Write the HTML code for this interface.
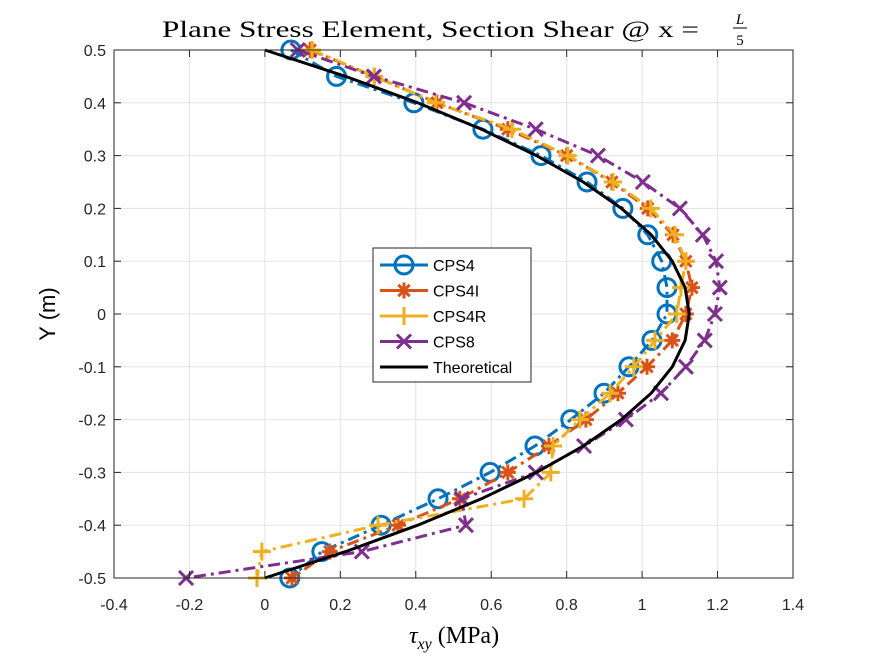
<!DOCTYPE html>
<html><head><meta charset="utf-8"><style>
html,body{margin:0;padding:0;background:#fff;}
svg text{font-family:"Liberation Sans",sans-serif;}
</style></head><body>
<svg id="chart" width="875" height="656" viewBox="0 0 875 656" xmlns="http://www.w3.org/2000/svg">
<rect x="0" y="0" width="875" height="656" fill="#fff"/>
<g id="grid"></g>
<g id="series"></g>
<rect x="114" y="50" width="679" height="528" fill="none" stroke="#262626" stroke-width="1"/>
<g id="ticks"></g>
<text x="162" y="37" font-size="23" fill="#000" textLength="537" lengthAdjust="spacingAndGlyphs" style="font-family:'Liberation Serif',serif">Plane Stress Element, Section Shear @ x =</text>
<g>
<text x="740" y="24" font-size="15" font-style="italic" text-anchor="middle" style="font-family:'Liberation Serif',serif">L</text>
<line x1="733" y1="28" x2="747" y2="28" stroke="#000" stroke-width="1"/>
<text x="740" y="45" font-size="15" text-anchor="middle" style="font-family:'Liberation Serif',serif">5</text>
</g>
<text x="454" y="643" font-size="24" text-anchor="middle" style="font-family:'Liberation Serif',serif"><tspan font-style="italic">τ</tspan><tspan font-size="16" dy="6" font-style="italic">xy</tspan><tspan dy="-6"> (MPa)</tspan></text>
<text transform="translate(55,314) rotate(-90)" font-size="22" text-anchor="middle">Y (m)</text>
<g id="legend"></g>
</svg>
<script>
const yVals=[0.5,0.45,0.4,0.35,0.3,0.25,0.2,0.15,0.1,0.05,0,-0.05,-0.1,-0.15,-0.2,-0.25,-0.3,-0.35,-0.4,-0.45,-0.5];
const cps4=[0.069,0.19,0.395,0.578,0.732,0.854,0.949,1.015,1.052,1.066,1.066,1.026,0.965,0.899,0.811,0.716,0.597,0.459,0.308,0.151,0.066];
const cps4i=[0.12,0.29,0.456,0.644,0.8,0.92,1.015,1.082,1.116,1.132,1.116,1.08,1.013,0.936,0.851,0.753,0.644,0.517,0.353,0.172,0.072];
const cps4r=[0.125,0.29,0.453,0.655,0.803,0.923,1.023,1.087,1.116,1.103,1.092,1.034,0.978,0.915,0.835,0.764,0.758,0.687,0.3,-0.008,-0.021];
const cps8=[0.087,0.289,0.528,0.718,0.883,1.002,1.1,1.161,1.196,1.206,1.193,1.166,1.116,1.05,0.957,0.846,0.718,0.522,0.533,0.257,-0.209];
const theoY=[0.5,0.45,0.4,0.35,0.3,0.25,0.2,0.15,0.1,0.05,0,-0.05,-0.1,-0.15,-0.2,-0.25,-0.3,-0.35,-0.4,-0.45,-0.5];
const theoX=[0,0.214,0.405,0.574,0.72,0.844,0.945,1.024,1.08,1.114,1.125,1.114,1.08,1.024,0.945,0.844,0.72,0.574,0.405,0.214,0];
const xTicks=[-0.4,-0.2,0,0.2,0.4,0.6,0.8,1,1.2,1.4];
const yTicks=[0.5,0.4,0.3,0.2,0.1,0,-0.1,-0.2,-0.3,-0.4,-0.5];
const xTickLabels=["-0.4","-0.2","0","0.2","0.4","0.6","0.8","1","1.2","1.4"];
const yTickLabels=["0.5","0.4","0.3","0.2","0.1","0","-0.1","-0.2","-0.3","-0.4","-0.5"];
const seriesNames=["CPS4","CPS4I","CPS4R","CPS8","Theoretical"];

const NS="http://www.w3.org/2000/svg";
const X0=114,X1=793,Y0=578,Y1=50;
function sx(v){return X0+(v-(-0.4))/(1.8)*(X1-X0);}
function sy(v){return Y0-(v-(-0.5))/(1.0)*(Y0-Y1);}
function mk(tag,attrs,parent){const e=document.createElementNS(NS,tag);for(const k in attrs)e.setAttribute(k,attrs[k]);parent.appendChild(e);return e;}
const grid=document.getElementById('grid'),ticks=document.getElementById('ticks'),ser=document.getElementById('series'),leg=document.getElementById('legend');
xTicks.forEach((t,i)=>{const x=sx(t);
 const g=mk('line',{x1:x,x2:x,y1:Y1,y2:Y0,stroke:'#e3e3e3','stroke-width':1},grid);
 
 
 mk('line',{x1:x,x2:x,y1:Y0,y2:Y0-7,stroke:'#262626'},ticks);
 mk('line',{x1:x,x2:x,y1:Y1,y2:Y1+7,stroke:'#262626'},ticks);
 const tx=mk('text',{x:x,y:610,'font-size':16,'text-anchor':'middle',fill:'#262626'},ticks);tx.textContent=xTickLabels[i];
 
 
});
yTicks.forEach((t,i)=>{const y=sy(t);
 const g=mk('line',{x1:X0,x2:X1,y1:y,y2:y,stroke:'#e3e3e3','stroke-width':1},grid);
 
 
 mk('line',{x1:X0,x2:X0+7,y1:y,y2:y,stroke:'#262626'},ticks);
 mk('line',{x1:X1,x2:X1-7,y1:y,y2:y,stroke:'#262626'},ticks);
 const tx=mk('text',{x:106,y:y+6,'font-size':16,'text-anchor':'end',fill:'#262626'},ticks);tx.textContent=yTickLabels[i];
 
 
});
function marker(type,x,y,color,parent){
 const g=mk('g',{stroke:color,'stroke-width':3,fill:'none'},parent);
 if(type==='o'){mk('circle',{cx:x,cy:y,r:9},g);}
 else if(type==='*'){for(let a=0;a<4;a++){const an=a*Math.PI/4;mk('line',{x1:x-8*Math.cos(an),y1:y-8*Math.sin(an),x2:x+8*Math.cos(an),y2:y+8*Math.sin(an)},g);}}
 else if(type==='+'){mk('line',{x1:x-9,x2:x+9,y1:y,y2:y},g);mk('line',{x1:x,x2:x,y1:y-9,y2:y+9},g);}
 else if(type==='x'){mk('line',{x1:x-7,x2:x+7,y1:y-7,y2:y+7},g);mk('line',{x1:x-7,x2:x+7,y1:y+7,y2:y-7},g);}
 return g;
}
const defs=[[cps4,'#0072BD','o','cps4'],[cps4i,'#D95319','*','cps4i'],[cps4r,'#EDB120','+','cps4r'],[cps8,'#7E2F8E','x','cps8']];
defs.forEach(d=>{
 const pts=d[0].map((v,i)=>sx(v)+','+sy(yVals[i])).join(' ');
 const pl=mk('polyline',{points:pts,fill:'none',stroke:d[1],'stroke-width':3,'stroke-dasharray':'12,5,3,5'},ser);
 
 
 d[0].forEach((v,i)=>{const m=marker(d[2],sx(v),sy(yVals[i]),d[1],ser);
  
  });
});
const th=mk('polyline',{points:theoX.map((v,i)=>sx(v)+','+sy(theoY[i])).join(' '),fill:'none',stroke:'#000','stroke-width':3,'stroke-linejoin':'round'},ser);


mk('rect',{x:373,y:248,width:158,height:134,fill:'#fff',stroke:'#262626','stroke-width':1},leg);
const lc=['#0072BD','#D95319','#EDB120','#7E2F8E','#000'],lm=['o','*','+','x',null];
seriesNames.forEach((n,i)=>{const y=265+i*25.5;
 const e=mk('g',{},leg);
 
 
 mk('line',{x1:380,x2:428,y1:y,y2:y,stroke:lc[i],'stroke-width':3},e);
 if(lm[i])marker(lm[i],404,y,lc[i],e);
 const t=mk('text',{x:433,y:y+6,'font-size':16,fill:'#000'},e);t.textContent=n;
});
</script>
</body></html>
